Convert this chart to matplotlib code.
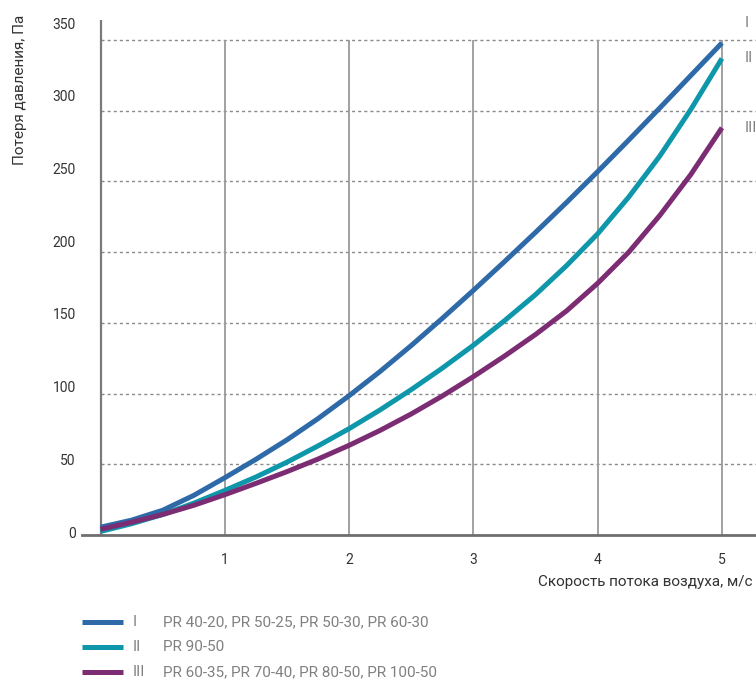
"""Pressure loss vs. air flow velocity for the PR grille series (three curves)."""

import matplotlib

matplotlib.use("Agg")
import matplotlib.pyplot as plt
from matplotlib.lines import Line2D

# air velocity, m/s
VELOCITY = [0, 0.25, 0.5, 0.75, 1, 1.25, 1.5, 1.75, 2, 2.25, 2.5, 2.75,
            3, 3.25, 3.5, 3.75, 4, 4.25, 4.5, 4.75, 5]
# pressure loss, Pa
LOSS_I = [5.5, 10.5, 17.5, 28, 40.5, 53.5, 67.3, 82.3, 98.5, 115.7, 134, 153.2,
          173, 193.3, 214, 235.2, 257, 279.3, 302, 325, 348]
LOSS_II = [2.5, 8, 14.5, 22.5, 31.5, 41, 51.5, 63, 75.2, 88.5, 102.8, 118,
           134.2, 151.5, 170, 190.5, 213, 239, 268, 301, 337]
LOSS_III = [4, 9, 14.5, 21, 28.5, 36.5, 44.8, 53.7, 63.4, 74, 85.6, 98.3,
            112, 126.5, 141.8, 158.5, 178, 200, 226, 255, 288]

NUMERALS = ["I", "II", "III"]
MODELS = [
    "PR 40-20, PR 50-25, PR 50-30, PR 60-30",
    "PR 90-50",
    "PR 60-35, PR 70-40, PR 80-50, PR 100-50",
]
COLORS = ["#2f6aa8", "#0e97ab", "#7c2c73"]

X_TICKS = [1, 2, 3, 4, 5]
Y_TICKS = [0, 50, 100, 150, 200, 250, 300, 350]

X_LABEL = "Скорость потока воздуха, м/с"
Y_LABEL = "Потеря давления, Па"

W, H = 756, 681
TEXT = "#333333"
GREY = "#808080"

plt.rcParams["font.family"] = ["Roboto", "DejaVu Sans"]

fig = plt.figure(figsize=(W / 100, H / 100), dpi=100)
# axes box in pixels: x 82..756, y 20..535
ax = fig.add_axes([82 / W, 1 - 535 / H, (756 - 82) / W, (535 - 20) / H])
ax.set_xlim(-0.149, 5.274)
ax.set_ylim(0, 364.2)

for side in ("top", "right", "left"):
    ax.spines[side].set_visible(False)
ax.spines["bottom"].set_color("#6e6e6e")
ax.spines["bottom"].set_linewidth(2)

# grid: dashed horizontals, solid verticals, left axis line at x=0
ax.hlines(Y_TICKS[1:], 0, ax.get_xlim()[1], colors="#8a8a8a", linewidth=1,
          linestyles=(0, (2.2, 2.2)), zorder=1)
ax.vlines(X_TICKS, 0, Y_TICKS[-1], colors="#9a9a9a", linewidth=1.3, zorder=1)
ax.vlines(0, 0, ax.get_ylim()[1], colors="#7a7a7a", linewidth=1.6, zorder=1)

series = [LOSS_I, LOSS_II, LOSS_III]
for idx in (1, 0, 2):
    ax.plot(VELOCITY, series[idx], color=COLORS[idx], linewidth=3.6,
            solid_capstyle="butt", solid_joinstyle="round", zorder=3)

# curve numerals at the right end
offsets = [(16, 14), (16, 0), (16, 0)]
for values, numeral, off in zip(series, NUMERALS, offsets):
    ax.annotate(numeral, xy=(VELOCITY[-1], values[-1]), xytext=off,
                textcoords="offset points", ha="left", va="center",
                fontsize=11, color=GREY)

ax.set_xticks(X_TICKS)
ax.tick_params(axis="x", length=0, pad=13, labelsize=10, labelcolor=TEXT)
ax.set_yticks([])

# y tick labels sit on a slightly different scale than the gridlines
lab_ax = ax.twinx()
lab_ax.set_ylim(-2.06, 352.1)
lab_ax.yaxis.tick_left()
lab_ax.set_yticks(Y_TICKS)
lab_ax.tick_params(axis="y", length=0, pad=4.5, labelsize=10, labelcolor=TEXT)
for spine in lab_ax.spines.values():
    spine.set_visible(False)

fig.text(752 / W, 1 - 582 / H, X_LABEL, ha="right", va="center",
         fontsize=11, color=TEXT)
fig.text(20 / W, 1 - 15 / H, Y_LABEL, ha="center", va="top", rotation=90,
         fontsize=11, color=TEXT)

# legend rows
for i, (numeral, model, color) in enumerate(zip(NUMERALS, MODELS, COLORS)):
    y = 1 - (622 + 25 * i) / H
    fig.add_artist(Line2D([82 / W, 123 / W], [y, y], color=color, linewidth=3.6,
                          solid_capstyle="butt", transform=fig.transFigure))
    fig.text(133 / W, y, numeral, ha="left", va="center", fontsize=11, color=GREY)
    fig.text(163 / W, y, model, ha="left", va="center", fontsize=11, color=GREY)

fig.savefig("out.png", dpi=100)
